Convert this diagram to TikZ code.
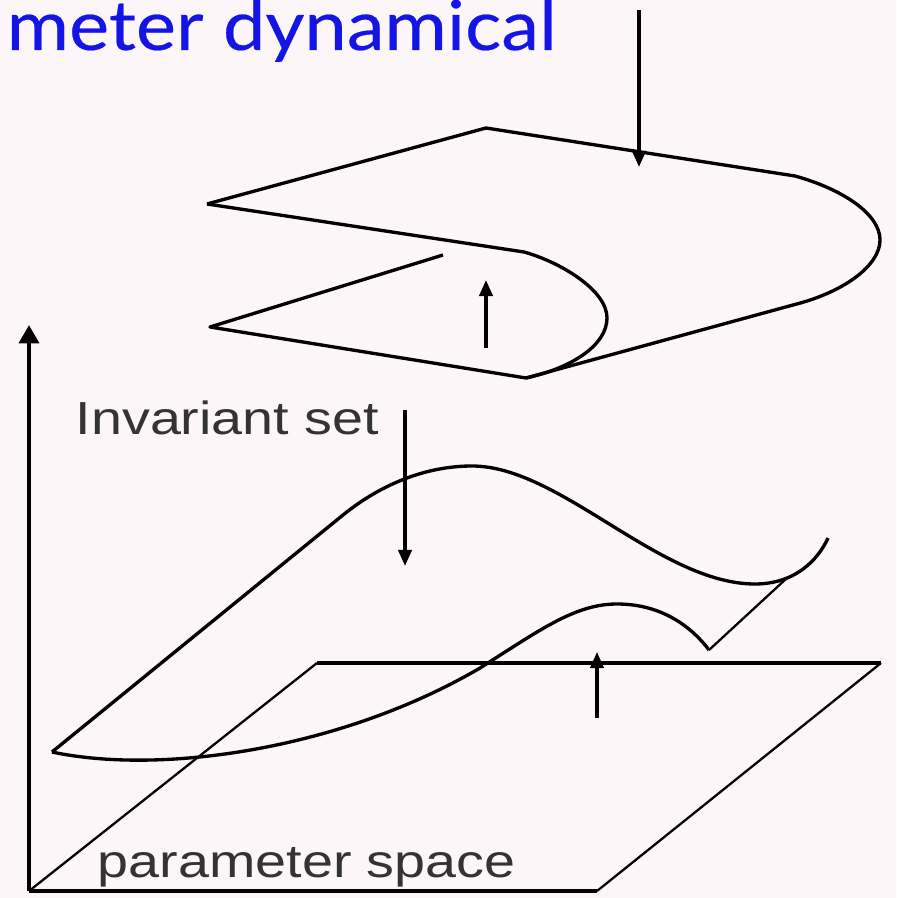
\documentclass[tikz,border=0pt]{standalone}
\usepackage{fontspec}
\setmainfont{Liberation Sans}
\newfontfamily\titlefont[FakeBold=0.3]{Lato}
\usetikzlibrary{arrows.meta}
\definecolor{paper}{HTML}{FCF6F9}
\definecolor{heading}{HTML}{1414E4}
\definecolor{caption}{HTML}{333333}

\begin{document}
\begin{tikzpicture}[x=0.01cm,y=-0.01cm,
  sheet/.style={line width=0.95pt,line join=round},
  fine/.style={line width=0.65pt},
  axis/.style={line width=1.2pt},
  pointer/.style={line width=0.95pt,-{Triangle[length=4.6pt,width=3.8pt]}},
  tag/.style={anchor=base west,inner sep=0pt,text=caption,font=\fontsize{13.2}{15}\selectfont}]
  \fill[paper] (0,0) rectangle (896,898);
  \useasboundingbox (0,0) rectangle (896,898);

  % heading, cut by the frame
  \node[anchor=base west,inner sep=0pt,text=heading,font=\titlefont\fontsize{19.6}{22}\selectfont] (title) at (6,50) {\scalebox{1.1}[1]{meter dynamical}};

  % folded sheet above
  \draw[sheet] (207,204) -- (486,128) -- (795,176)
    .. controls (845,190) and (880,215) .. (880,240)
    .. controls (880,265) and (845,292) .. (793,305) -- (526,378);
  \draw[sheet] (207,204) -- (524,252)
    .. controls (560,262) and (607,290) .. (607,318)
    .. controls (607,345) and (572,368) .. (526,378);
  \draw[sheet] (443,255) -- (210,327) -- (526,378);
  \coordinate (downtail) at (639,10);
  \coordinate (downtip) at (639,167);
  \draw[pointer] (downtail) -- (downtip);
  \coordinate (uptail) at (486,348);
  \coordinate (uptip) at (486,280);
  \draw[pointer] (uptail) -- (uptip);

  % axes and parameter plane
  \coordinate (origin) at (29,891);
  \coordinate (ytop) at (29,325);
  \draw[axis,-{Triangle[length=5.2pt,width=5.6pt]}] (origin) -- (ytop);
  \draw[axis] (origin) -- (597,891);
  \draw[sheet] (317,663) -- (881,663);
  \draw[fine] (597,891) -- (881,663) (317,663) -- (origin);

  % invariant set
  \draw[sheet] (52,752) -- (343,515)
    .. controls (380,485) and (425,466) .. (472,466)
    .. controls (560,466) and (660,584) .. (755,584)
    .. controls (795,584) and (818,560) .. (828,538);
  \draw[sheet] (52,752) .. controls (160,775) and (340,750) .. (480,668)
    .. controls (540,630) and (575,604) .. (617,604)
    .. controls (660,604) and (690,625) .. (709,650);
  \draw[fine] (709,650) -- (787,578);

  \node[tag] (invlabel) at (75,435) {\scalebox{1.2}[1]{Invariant set}};
  \coordinate (invtail) at (405,410);
  \coordinate (invtip) at (405,566);
  \draw[pointer] (invtail) -- (invtip);
  \coordinate (planetail) at (597,718);
  \coordinate (planetip) at (597,652);
  \draw[pointer] (planetail) -- (planetip);
  \node[tag] (paramlabel) at (97,877) {\scalebox{1.2}[1]{parameter space}};
\end{tikzpicture}
\end{document}
